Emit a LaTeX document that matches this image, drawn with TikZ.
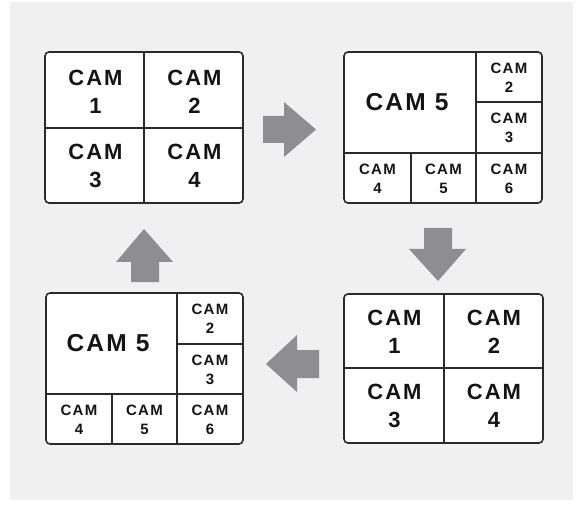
\documentclass[tikz,border=0pt]{standalone}
\usepackage{fontspec}
\newfontfamily\camf{Liberation Sans}[LetterSpace=9]
\definecolor{bgC}{HTML}{F0F0F0}
\definecolor{lineC}{HTML}{2A2A2A}
\definecolor{txtC}{HTML}{141414}
\definecolor{arrC}{HTML}{8E8E92}
\begin{document}
\begin{tikzpicture}[x=1pt,y=-1pt,
  panel/.style={draw=lineC, line width=1.6pt, fill=white, rounded corners=4pt},
  divline/.style={draw=lineC, line width=1.6pt},
  bigtxt/.style={font=\camf\bfseries\fontsize{22}{28}\selectfont, text=txtC, align=center, inner sep=0pt},
  midtxt/.style={font=\camf\bfseries\fontsize{24.5}{30}\selectfont, text=txtC, align=center, inner sep=0pt},
  smalltxt/.style={font=\camf\bfseries\fontsize{15}{19}\selectfont, text=txtC, align=center, inner sep=0pt},
  bigarrow/.style={fill=arrC}]
\useasboundingbox (0,0) rectangle (580,510);
\fill[bgC] (10,2) rectangle (573,500);

% Panel 1 (top-left, quad)
\draw[panel] (45,52) rectangle (243,203);
\draw[divline] (144,52) -- (144,203);
\draw[divline] (45,128) -- (243,128);
\node[bigtxt] (a1) at (95.5,92) {CAM\\1};
\node[bigtxt] (a2) at (194.5,92) {CAM\\2};
\node[bigtxt] (a3) at (95.5,166) {CAM\\3};
\node[bigtxt] (a4) at (194.5,166) {CAM\\4};

% Panel 2 (top-right, 1+5)
\draw[panel] (344,52) rectangle (542,203);
\draw[divline] (476,52) -- (476,203);
\draw[divline] (344,153) -- (542,153);
\draw[divline] (476,102) -- (542,102);
\draw[divline] (411,153) -- (411,203);
\node[midtxt] (b5) at (407,102) {CAM 5};
\node[smalltxt] (b2) at (509,77.5) {CAM\\2};
\node[smalltxt] (b3) at (509,128) {CAM\\3};
\node[smalltxt] (b4) at (377.5,178.5) {CAM\\4};
\node[smalltxt] (b5s) at (443.5,178.5) {CAM\\5};
\node[smalltxt] (b6) at (509,178.5) {CAM\\6};

% Panel 3 (bottom-left, 1+5)
\draw[panel] (46,293) rectangle (243,444);
\draw[divline] (177,293) -- (177,444);
\draw[divline] (46,394) -- (243,394);
\draw[divline] (177,344) -- (243,344);
\draw[divline] (112,394) -- (112,444);
\node[midtxt] (c5) at (108,343.5) {CAM 5};
\node[smalltxt] (c2) at (210,319) {CAM\\2};
\node[smalltxt] (c3) at (210,369.5) {CAM\\3};
\node[smalltxt] (c4) at (79,419.5) {CAM\\4};
\node[smalltxt] (c5s) at (144.5,419.5) {CAM\\5};
\node[smalltxt] (c6) at (210,419.5) {CAM\\6};

% Panel 4 (bottom-right, quad)
\draw[panel] (344,294) rectangle (543,443);
\draw[divline] (444,294) -- (444,443);
\draw[divline] (344,368) -- (543,368);
\node[bigtxt] (d1) at (394.5,332) {CAM\\1};
\node[bigtxt] (d2) at (494,332) {CAM\\2};
\node[bigtxt] (d3) at (394.5,406) {CAM\\3};
\node[bigtxt] (d4) at (494,406) {CAM\\4};

% Arrows
\fill[bigarrow] (263,116) -- (284,116) -- (284,102) -- (316,129.5) -- (284,157) -- (284,143) -- (263,143) -- cycle;
\fill[bigarrow] (424,228) -- (452,228) -- (452,249) -- (466,249) -- (438,281) -- (409,249) -- (424,249) -- cycle;
\fill[bigarrow] (319,350) -- (297,350) -- (297,335) -- (266,364) -- (297,392) -- (297,378) -- (319,378) -- cycle;
\fill[bigarrow] (131,282) -- (131,262) -- (116,262) -- (144,229) -- (173,262) -- (159,262) -- (159,282) -- cycle;
\end{tikzpicture}
\end{document}
